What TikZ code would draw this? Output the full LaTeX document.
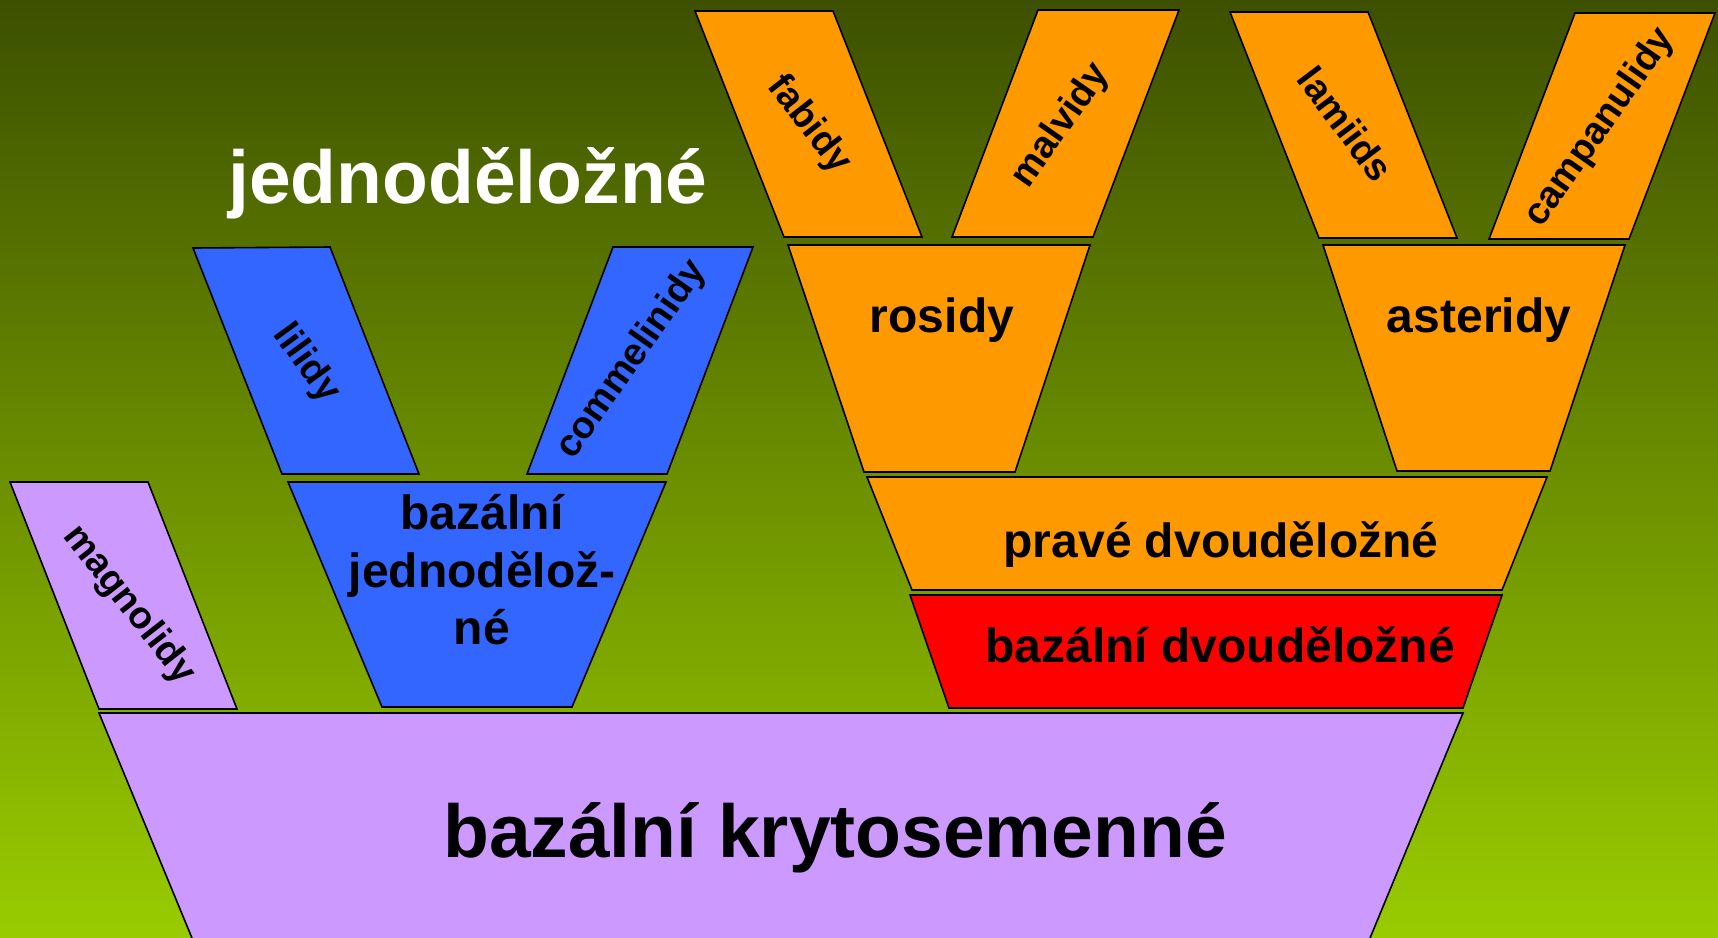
\documentclass[tikz,border=0pt]{standalone}
\usepackage{fontspec}
\setmainfont{Liberation Sans}
\definecolor{bgtop}{HTML}{3D5000}
\definecolor{bgbot}{HTML}{99CC00}
\definecolor{cpurple}{HTML}{CC99FF}
\definecolor{cblue}{HTML}{3366FF}
\definecolor{corange}{HTML}{FF9900}
\definecolor{cred}{HTML}{FF0000}
\begin{document}
\begin{tikzpicture}[x=1pt,y=-1pt,
  clade/.style={draw=black, line width=1.6pt, line join=miter},
  purp/.style={clade, fill=cpurple},
  blu/.style={clade, fill=cblue},
  ora/.style={clade, fill=corange},
  redd/.style={clade, fill=cred},
  lbl/.style={font=\bfseries\fontsize{48}{57.5}\selectfont, text=black, inner sep=0pt, align=center},
  rlbl/.style={font=\bfseries\fontsize{38}{45}\selectfont, text=black, inner sep=0pt},
  big/.style={font=\bfseries\fontsize{75}{90}\selectfont, inner sep=0pt}]
\fill[top color=bgtop, bottom color=bgbot] (0,0) rectangle (1718,937);
\useasboundingbox (0,0) rectangle (1718,937);

% shapes
\draw[purp] (10,482) -- (148,482) -- (237,709) -- (99,709) -- cycle;
\draw[blu] (193,248) -- (330,247) -- (419,474) -- (282,474) -- cycle;
\draw[blu] (613,247) -- (753,247) -- (667,474) -- (527,474) -- cycle;
\draw[blu] (288,482) -- (666,482) -- (572,707) -- (382,707) -- cycle;
\draw[ora] (695,11) -- (833,11) -- (922,237) -- (784,237) -- cycle;
\draw[ora] (1038,10) -- (1179,10) -- (1093,237) -- (952,237) -- cycle;
\draw[ora] (788,245) -- (1090,245) -- (1015,472) -- (864,472) -- cycle;
\draw[ora] (1230,12) -- (1368,12) -- (1457,238) -- (1319,238) -- cycle;
\draw[ora] (1575,13) -- (1715,13) -- (1629,239) -- (1489,239) -- cycle;
\draw[ora] (1323,245) -- (1625,245) -- (1550,471) -- (1397,471) -- cycle;
\draw[ora] (867,477) -- (1547,477) -- (1502,590) -- (912,590) -- cycle;
\draw[redd] (910,595) -- (1502,595) -- (1463,708) -- (949,708) -- cycle;
\draw[purp] (99,713) -- (1463,713) -- (1368.8,941) -- (193.2,941) -- cycle;

% labels
\node[big, text=white, anchor=base] (tmono) at (468,203) {jednoděložné};
\node[big, anchor=base] (tbasal) at (835,857) {bazální krytosemenné};
\node[lbl] (tbmono) at (482,570) {bazální\\jednodělož-\\né};
\node[lbl, anchor=base] (trosid) at (942,332) {rosidy};
\node[lbl, anchor=base] (taster) at (1479,332) {asteridy};
\node[lbl, anchor=base] (teud) at (1221,557) {pravé dvouděložné};
\node[lbl, anchor=base] (tbdic) at (1220,662) {bazální dvouděložné};

\node[rlbl, rotate=-52] (tmagn) at (129,605) {magnolidy};
\node[rlbl, rotate=-54] (tlili) at (306,364) {lilidy};
\node[rlbl, rotate=55] (tcomm) at (632,360) {commelinidy};
\node[rlbl, rotate=-52] (tfab) at (809,125) {fabidy};
\node[rlbl, rotate=55] (tmalv) at (1061,126) {malvidy};
\node[rlbl, rotate=-53] (tlam) at (1346,124) {lamiids};
\node[rlbl, rotate=55] (tcamp) at (1600,128) {campanulidy};
\end{tikzpicture}
\end{document}
